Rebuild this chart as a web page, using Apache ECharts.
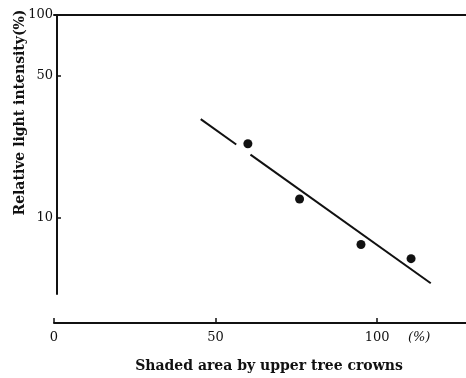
<!DOCTYPE html>
<html>
<head>
<meta charset="utf-8">
<script src="https://cdn.jsdelivr.net/npm/echarts@6/dist/echarts.min.js"></script>
<style>html,body{margin:0;padding:0;background:#fff}#c{width:466px;height:378px}</style>
</head>
<body>
<div id="c"></div>
<script>
// Data
const shadedArea = [60, 76, 95, 110.5];          // x, %
const lightIntensity = [23.2, 12.4, 7.4, 6.3];   // y, % (log scale)
const fitLineA = [[45.4, 30.7], [56.4, 23.0]];
const fitLineB = [[60.8, 20.5], [116.6, 4.77]];
const xTickValues = [0, 50, 100];
const xLabelValues = [0, 50, 100, 113];
const yTickValues = [10, 50, 100];

const ink = '#111';
const font = 'DejaVu Serif';
const points = shadedArea.map((x, i) => [x, lightIntensity[i]]);

const chart = echarts.init(document.getElementById('c'));
chart.setOption({
  animation: false,
  backgroundColor: '#fff',
  grid: { left: 54, right: 0, top: 15, bottom: 84, containLabel: false, outerBoundsMode: 'none' },
  xAxis: [{
    type: 'value', min: 0, max: 127.5, position: 'bottom', offset: 29,
    axisLine: { show: true, lineStyle: { color: ink, width: 2 } },
    axisTick: { show: true, inside: true, length: 5, customValues: xTickValues, lineStyle: { color: ink, width: 1.5 } },
    axisLabel: {
      customValues: xLabelValues, margin: 8, color: ink, fontFamily: font, fontSize: 13,
      formatter: v => v === 113 ? '{p|(%)}' : String(v),
      rich: { p: { fontFamily: font, fontSize: 13, fontStyle: 'italic', color: ink } }
    },
    splitLine: { show: false },
    name: 'Shaded area by upper tree crowns', nameLocation: 'middle', nameGap: 36, nameMoveOverlap: false,
    nameTextStyle: { color: ink, fontFamily: font, fontSize: 14, fontWeight: 'bold', padding: [0, 0, 0, 18] }
  }, {
    type: 'value', min: 0, max: 127.5, position: 'top',
    axisLine: { show: true, onZero: false, lineStyle: { color: ink, width: 2 } },
    axisTick: { show: false }, axisLabel: { show: false }, splitLine: { show: false }
  }],
  yAxis: {
    type: 'log', logBase: 10, min: 4.22, max: 100, offset: -3,
    axisLine: { show: true, lineStyle: { color: ink, width: 2 } },
    axisTick: { show: true, inside: true, length: 4, customValues: yTickValues, lineStyle: { color: ink, width: 1.5 } },
    axisLabel: { customValues: yTickValues, margin: 4, color: ink, fontFamily: font, fontSize: 13 },
    minorTick: { show: false }, splitLine: { show: false },
    name: 'Relative light intensity(%)', nameLocation: 'middle', nameGap: 30, nameMoveOverlap: false,
    nameTextStyle: { color: ink, fontFamily: font, fontSize: 14, fontWeight: 'bold', padding: [0, 0, 0, 84] }
  },
  series: [
    { type: 'line', data: fitLineA, symbol: 'none', lineStyle: { color: ink, width: 2 } },
    { type: 'line', data: fitLineB, symbol: 'none', lineStyle: { color: ink, width: 2 } },
    { type: 'scatter', data: points, symbol: 'circle', symbolSize: 9, itemStyle: { color: ink, opacity: 1 } }
  ]
});
</script>
</body>
</html>
